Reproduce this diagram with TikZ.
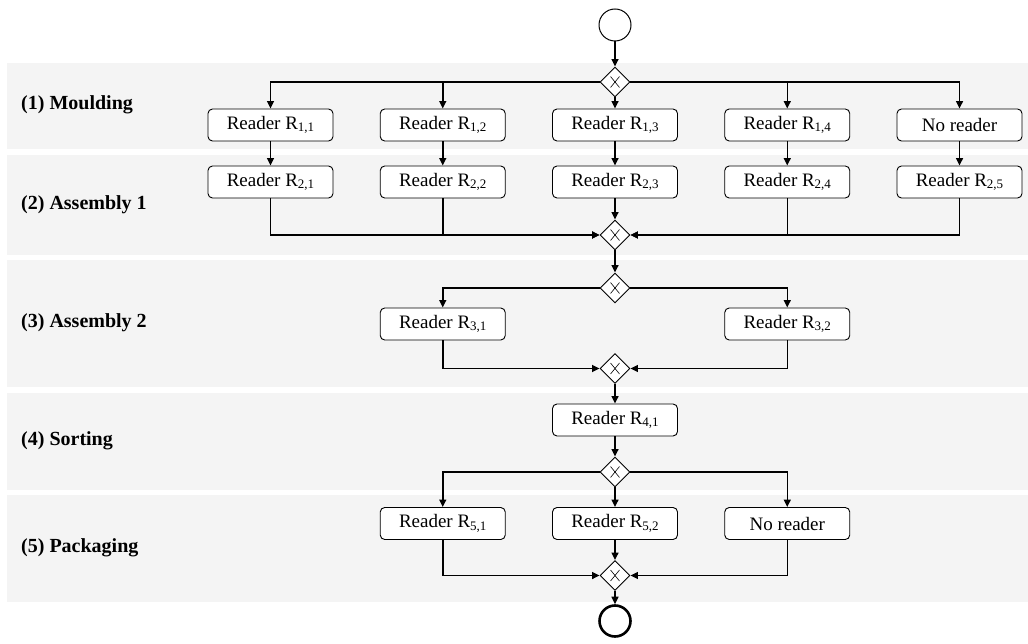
\documentclass[tikz,border=0pt]{standalone}
\usepackage{fontspec}
\setmainfont{Liberation Serif}
\usetikzlibrary{shapes.geometric,arrows.meta}
\definecolor{bandcol}{HTML}{F4F4F4}
\newcommand{\rsub}[1]{\raisebox{-0.3ex}{\fontsize{13}{14}\selectfont #1}}
\tikzset{
  band/.style={fill=bandcol, draw=none},
  lab/.style={anchor=west, inner sep=0, font=\fontsize{20}{22}\selectfont\bfseries},
  rbox/.style={draw, line width=0.9pt, rounded corners=4.5pt, minimum width=125pt, minimum height=32pt, inner sep=0, fill=white, font=\fontsize{19}{21}\selectfont},
  gw/.style={diamond, draw, line width=0.9pt, minimum width=30pt, minimum height=30pt, inner sep=0, fill=white,
    path picture={\draw[line width=0.6pt] ([shift={(-4.5pt,-5.5pt)}]path picture bounding box.center) -- ++(9pt,11pt);
                  \draw[line width=0.6pt] ([shift={(4.5pt,-5.5pt)}]path picture bounding box.center) -- ++(-9pt,11pt);}},
  startev/.style={circle, draw, line width=1pt, minimum size=32pt, inner sep=0, fill=white},
  endev/.style={circle, draw, line width=2.6pt, minimum size=31pt, inner sep=0, fill=white},
  conn/.style={line width=1.5pt},
  arr/.style={conn, -{Triangle[length=7.5pt,width=7pt]}}
}
\begin{document}
\begin{tikzpicture}[x=1pt,y=-1pt]
\useasboundingbox (0,0) rectangle (1028,644);
\fill[white] (0,0) rectangle (1028,644);
% lanes
\fill[band] (7,63) rectangle (1028,149);
\fill[band] (7,155) rectangle (1028,255);
\fill[band] (7,260) rectangle (1028,387);
\fill[band] (7,393) rectangle (1028,490);
\fill[band] (7,495) rectangle (1028,602);
\node[lab] (l1) at (21,105) {(1) Moulding};
\node[lab] (l2) at (21,205) {(2) Assembly 1};
\node[lab] (l3) at (21,323) {(3) Assembly 2};
\node[lab] (l4) at (21,441) {(4) Sorting};
\node[lab] (l5) at (21,548) {(5) Packaging};
% events and gateways
\node[startev] (start) at (615,25) {};
\node[gw] (d1) at (615,82) {};
\node[gw] (m2) at (615,235) {};
\node[gw] (s3) at (615,288) {};
\node[gw] (m3) at (615,368.5) {};
\node[gw] (s5) at (615,472) {};
\node[gw] (m5) at (615,575.5) {};
\node[endev] (end) at (615,621) {};
% row 1
\node[rbox] (r11) at (270.5,125) {Reader R\rsub{1,1}};
\node[rbox] (r12) at (442.75,125) {Reader R\rsub{1,2}};
\node[rbox] (r13) at (615,125) {Reader R\rsub{1,3}};
\node[rbox] (r14) at (787.25,125) {Reader R\rsub{1,4}};
\node[rbox] (r15) at (959.5,125) {No reader};
% row 2
\node[rbox] (r21) at (270.5,182) {Reader R\rsub{2,1}};
\node[rbox] (r22) at (442.75,182) {Reader R\rsub{2,2}};
\node[rbox] (r23) at (615,182) {Reader R\rsub{2,3}};
\node[rbox] (r24) at (787.25,182) {Reader R\rsub{2,4}};
\node[rbox] (r25) at (959.5,182) {Reader R\rsub{2,5}};
% row 3
\node[rbox] (r31) at (442.75,324) {Reader R\rsub{3,1}};
\node[rbox] (r32) at (787.25,324) {Reader R\rsub{3,2}};
% row 4
\node[rbox] (r41) at (615,420) {Reader R\rsub{4,1}};
% row 5
\node[rbox] (r51) at (442.75,523.5) {Reader R\rsub{5,1}};
\node[rbox] (r52) at (615,523.5) {Reader R\rsub{5,2}};
\node[rbox] (r53) at (787.25,523.5) {No reader};
% connectors
\draw[arr] (start) -- (d1);
\draw[arr] (d1.west) -| (r11.north);
\draw[arr] (d1.west) -| (r12.north);
\draw[arr] (d1) -- (r13);
\draw[arr] (d1.east) -| (r14.north);
\draw[arr] (d1.east) -| (r15.north);
\draw[arr] (r11) -- (r21);
\draw[arr] (r12) -- (r22);
\draw[arr] (r13) -- (r23);
\draw[arr] (r14) -- (r24);
\draw[arr] (r15) -- (r25);
\draw[arr] (r21.south) |- (m2.west);
\draw[arr] (r22.south) |- (m2.west);
\draw[arr] (r23) -- (m2);
\draw[arr] (r24.south) |- (m2.east);
\draw[arr] (r25.south) |- (m2.east);
\draw[arr] (m2) -- (s3);
\draw[arr] (s3.west) -| (r31.north);
\draw[arr] (s3.east) -| (r32.north);
\draw[arr] (r31.south) |- (m3.west);
\draw[arr] (r32.south) |- (m3.east);
\draw[arr] (m3) -- (r41);
\draw[arr] (r41) -- (s5);
\draw[arr] (s5.west) -| (r51.north);
\draw[arr] (s5) -- (r52);
\draw[arr] (s5.east) -| (r53.north);
\draw[arr] (r51.south) |- (m5.west);
\draw[arr] (r52) -- (m5);
\draw[arr] (r53.south) |- (m5.east);
\draw[arr] (m5) -- (end);
\end{tikzpicture}
\end{document}
